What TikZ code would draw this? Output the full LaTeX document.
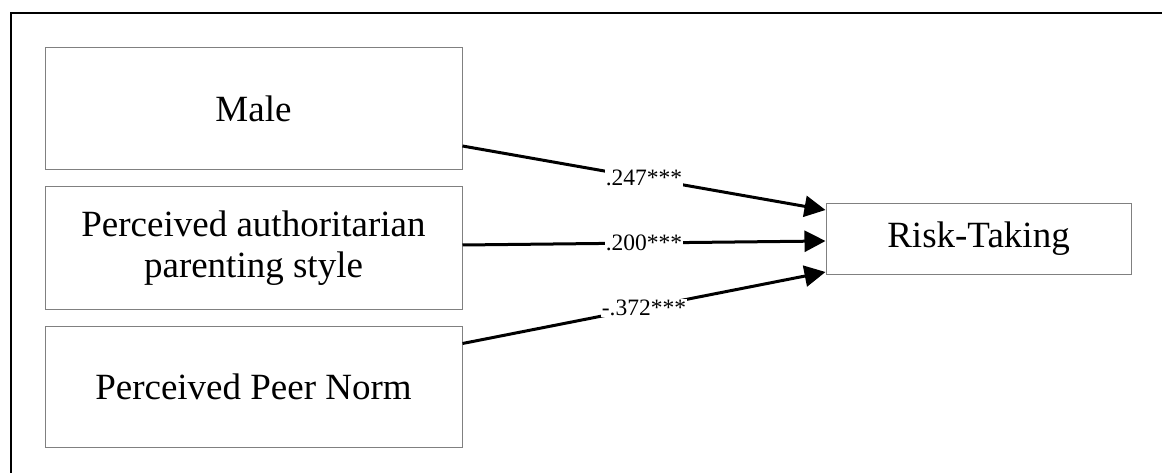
\documentclass[tikz,border=0pt]{standalone}
\usepackage{fontspec}
\setmainfont{Liberation Serif}
\usetikzlibrary{arrows.meta}
\tikzset{
  varbox/.style={draw=black!50,line width=1pt,fill=white,align=center,
    font=\fontsize{37}{41}\selectfont},
  path/.style={line width=3pt,-{Triangle[length=21pt,width=21pt]}},
  coef/.style={fill=white,inner sep=1pt,font=\fontsize{23.5}{25}\selectfont}
}
\begin{document}
\begin{tikzpicture}[x=1pt,y=-1pt]
\useasboundingbox (0,0) rectangle (1162,473);
% frame
\draw[line width=2.5pt] (11,473) -- (11,13) -- (1162,13);
% variables
\node[varbox,minimum width=417pt,minimum height=122pt] (male) at (253.5,109) {Male};
\node[varbox,minimum width=417pt,minimum height=122pt] (auth) at (253.5,248) {Perceived authoritarian\\parenting style};
\node[varbox,minimum width=417pt,minimum height=121pt] (peer) at (253.5,386.5) {Perceived Peer Norm};
\node[varbox,minimum width=305pt,minimum height=70pt] (risk) at (978.5,239) {Risk-Taking};
% paths
\draw[path] ([yshift=-37pt]male.east) -- node[coef]{.247***} ([yshift=29pt]risk.west);
\draw[path] ([yshift=3pt]auth.east) -- node[coef]{.200***} ([yshift=-2pt]risk.west);
\draw[path] ([yshift=43pt]peer.east) -- node[coef]{-.372***} ([yshift=-33pt]risk.west);
\end{tikzpicture}
\end{document}
